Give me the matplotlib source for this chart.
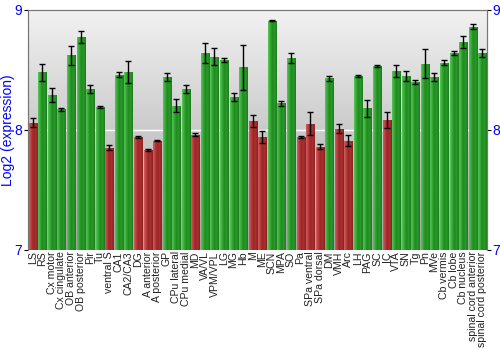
import numpy as np
import matplotlib
matplotlib.use('Agg')
from matplotlib import pyplot as plt
from matplotlib.colors import LinearSegmentedColormap

plt.rcParams['font.family'] = ['Liberation Sans', 'DejaVu Sans']

# Data
regions = ['LS', 'RS', 'Cx motor', 'Cx cingulate', 'OB anterior', 'OB posterior', 'Pir', 'Tu',
           'ventral S', 'CA1', 'CA2/CA3', 'DG', 'A anterior', 'A posterior', 'GP', 'CPu lateral',
           'CPu medial', 'MD', 'VA/VL', 'VPM/VPL', 'LG', 'MG', 'Hb', 'M', 'ME', 'SCN', 'MPA', 'SO',
           'Pa', 'SPa ventral', 'SPa dorsal', 'DM', 'VMH', 'Arc', 'LH', 'PAG', 'SC', 'IC', 'VTA',
           'SN', 'Tg', 'Pn', 'MVe', 'Cb vermis', 'Cb lobe', 'Cb nucleus', 'spinal cord anterior',
           'spinal cord posterior']
expression = [8.06, 8.48, 8.29, 8.17, 8.62, 8.77, 8.34, 8.19,
              7.85, 8.46, 8.48, 7.94, 7.83, 7.91, 8.44, 8.20,
              8.34, 7.96, 8.64, 8.61, 8.58, 8.27, 8.52, 8.07, 7.94, 8.91, 8.22, 8.60,
              7.94, 8.05, 7.86, 8.43, 8.01, 7.91, 8.45, 8.18, 8.53, 8.08, 8.49,
              8.45, 8.40, 8.55, 8.44, 8.56, 8.64, 8.73, 8.86,
              8.64]
errors = [0.04, 0.07, 0.055, 0.015, 0.08, 0.05, 0.03, 0.005,
          0.02, 0.02, 0.09, 0.012, 0.008, 0.005, 0.03, 0.055,
          0.03, 0.01, 0.08, 0.07, 0.017, 0.033, 0.19, 0.05, 0.05, 0.005, 0.02, 0.04,
          0.005, 0.095, 0.02, 0.02, 0.04, 0.045, 0.01, 0.07, 0.01, 0.065, 0.05,
          0.04, 0.015, 0.12, 0.03, 0.02, 0.017, 0.05, 0.02,
          0.035]

fig = plt.figure(figsize=(5, 3.5), dpi=100)
ax = fig.add_axes([0.056, 0.286, 0.918, 0.686])

x = np.arange(len(regions))
ax.set_xlim(-0.5, len(regions) - 0.5)
ax.set_ylim(7, 9)

# grey gradient background
bg = LinearSegmentedColormap.from_list('bg', ['#a4a4a4', '#f2f2f2'])
ax.imshow(np.linspace(0, 1, 256).reshape(-1, 1), cmap=bg, aspect='auto',
          extent=(-0.5, len(regions) - 0.5, 7, 9), origin='lower', zorder=0)
ax.axhline(8, color='white', lw=1, zorder=1)

green = LinearSegmentedColormap.from_list('g', ['#5cc45c', '#34a834', '#1f8a1f', '#2a9a2a', '#1c7a1c'])
red = LinearSegmentedColormap.from_list('r', ['#d06060', '#b83c3c', '#9c2626', '#a83030', '#8a2020'])
grad = np.linspace(0, 1, 64).reshape(1, -1)

bars = ax.bar(x, np.array(expression) - 7, bottom=7, width=0.84, color='none',
              edgecolor='#9a9a9a', linewidth=0.5, zorder=2)
for b, v in zip(bars, expression):
    cmap = red if v < 8.1 else green
    im = ax.imshow(grad, cmap=cmap, aspect='auto', zorder=2,
                   extent=(b.get_x(), b.get_x() + b.get_width(), 7, v))
    im.set_clip_path(b)

ax.errorbar(x, expression, yerr=errors, fmt='none', ecolor='black', elinewidth=1,
            capsize=2, capthick=1, zorder=3)

ax.set_xticks(x)
ax.set_xticklabels(regions, rotation=90, fontsize=7.6, color='#222222')
ax.tick_params(axis='x', length=0, pad=1)
ax.set_yticks([7, 8, 9])
ax.tick_params(axis='y', labelcolor='blue', labelsize=10, color='black', length=3, pad=1)
ax.set_ylabel('Log2 (expression)', color='blue', fontsize=10, labelpad=0)

ax2 = ax.twinx()
ax2.set_ylim(7, 9)
ax2.set_yticks([7, 8, 9])
ax2.tick_params(axis='y', labelcolor='blue', labelsize=10, length=3, pad=1)

for a in (ax, ax2):
    for s in a.spines.values():
        s.set_color('#777777')
    a.spines['bottom'].set_visible(False)

fig.savefig('out.png', dpi=100)
